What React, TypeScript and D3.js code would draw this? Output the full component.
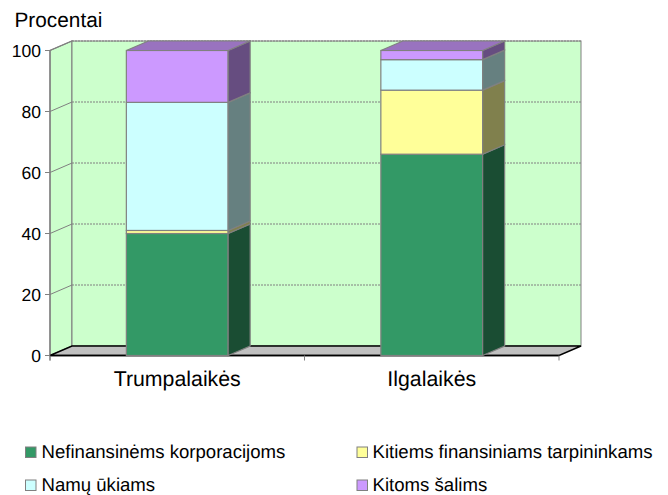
import React from "react";
import * as d3 from "d3";

const categories = ["Trumpalaikės", "Ilgalaikės"];
const seriesNames = ["Nefinansinėms korporacijoms", "Kitiems finansiniams tarpininkams", "Namų ūkiams", "Kitoms šalims"];
const nefinansinems = [40, 66];
const kitiemsFin = [1, 21];
const namuUkiams = [42, 10];
const kitomsSalims = [17, 3];
const seriesValues = [nefinansinems, kitiemsFin, namuUkiams, kitomsSalims];
const seriesColors = ["#339966", "#FFFF99", "#CCFFFF", "#CC99FF"];
const yTicks = [0, 20, 40, 60, 80, 100];

const DX = 22, DY = -9.5;
const GREY = "#808080";
const font = "'Liberation Sans', Arial, sans-serif";

export default function App() {
  const y = d3.scaleLinear().domain([0, 100]).range([355.5, 50.5]);
  const band = d3.scaleBand().domain(categories).range([50, 559]).paddingInner(0.6).paddingOuter(0.3);
  const x0 = 50, x1 = 559;
  const shade = (c: string, k: number) => {
    const r = d3.rgb(c);
    return d3.rgb(r.r * k, r.g * k, r.b * k).formatHex();
  };
  const legend = [
    { i: 0, x: 25.5, tx: 41.5, y: 447 },
    { i: 1, x: 357, tx: 372.5, y: 447 },
    { i: 2, x: 25.5, tx: 41.5, y: 480 },
    { i: 3, x: 357, tx: 372.5, y: 480 },
  ];
  return (
    <svg width={668} height={495} style={{ position: "absolute", left: 0, top: 0 }} fontFamily={font} fill="#000" textRendering="geometricPrecision">
      <rect width={668} height={495} fill="#fff" />
      <text x={14.5} y={27} fontSize={20.8}>Procentai</text>
      {/* walls */}
      <polygon points={`${x0},${y(0)} ${x0 + DX},${y(0) + DY} ${x0 + DX},${y(100) + DY} ${x0},${y(100)}`} fill="#CCFFCC" stroke={GREY} strokeWidth={1.3} />
      <rect x={x0 + DX} y={y(100) + DY} width={x1 - x0} height={y(0) - y(100)} fill="#CCFFCC" stroke={GREY} strokeWidth={1} />
      {/* floor */}
      <polygon points={`${x0},${y(0)} ${x0 + DX},${y(0) + DY} ${x1 + DX},${y(0) + DY} ${x1},${y(0)}`} fill="#C0C0C0" stroke="#000" strokeWidth={1.4} />
      {/* grid */}
      {yTicks.filter(t => t > 0).map(t => (
        <g key={t} stroke={GREY} fill="none" strokeWidth={1}>
          <line x1={x0} y1={y(t)} x2={x0 + DX} y2={y(t) + DY} />
          <line x1={x0 + DX} y1={y(t) + DY} x2={x1 + DX} y2={y(t) + DY} strokeDasharray="2 1" />
        </g>
      ))}
      {/* axes */}
      <line x1={x0} y1={y(100)} x2={x0} y2={y(0) + 5} stroke={GREY} strokeWidth={1.2} />
      <line x1={x0} y1={y(0)} x2={x1} y2={y(0)} stroke="#000" strokeWidth={1.4} />
      {[x0, (x0 + x1) / 2, x1].map((tx, i) => (
        <line key={i} x1={tx} y1={y(0)} x2={tx} y2={y(0) + 5} stroke={GREY} />
      ))}
      {yTicks.map(t => (
        <g key={t}>
          <line x1={x0 - 5} y1={y(t)} x2={x0} y2={y(t)} stroke={GREY} />
          <text x={41} y={y(t) + 6} textAnchor="end" fontSize={17.5}>{t}</text>
        </g>
      ))}
      {/* bars */}
      {categories.map((c, ci) => {
        let acc = 0;
        const bx = band(c)!;
        const bw = band.bandwidth();
        return (
          <g key={c}>
            {seriesValues.map((vals, si) => {
              const a = acc, b = acc + vals[ci];
              acc = b;
              const col = seriesColors[si];
              const isTop = si === seriesValues.length - 1;
              return (
                <g key={si} stroke={GREY} strokeWidth={1.2}>
                  <rect x={bx} y={y(b)} width={bw} height={y(a) - y(b)} fill={col} />
                  <polygon fill={shade(col, 0.5)} points={`${bx + bw},${y(a)} ${bx + bw + DX},${y(a) + DY} ${bx + bw + DX},${y(b) + DY} ${bx + bw},${y(b)}`} />
                  {isTop && <polygon fill={shade(col, 0.75)} points={`${bx},${y(b)} ${bx + DX},${y(b) + DY} ${bx + bw + DX},${y(b) + DY} ${bx + bw},${y(b)}`} />}
                </g>
              );
            })}
            <text x={bx + bw / 2} y={386} textAnchor="middle" fontSize={21.3}>{c}</text>
          </g>
        );
      })}
      {/* legend */}
      {legend.map(l => (
        <g key={l.i}>
          <rect x={l.x} y={l.y} width={10.5} height={10.5} fill={seriesColors[l.i]} stroke={GREY} />
          <text x={l.tx} y={l.y + 11} fontSize={18.6}>{seriesNames[l.i]}</text>
        </g>
      ))}
    </svg>
  );
}
